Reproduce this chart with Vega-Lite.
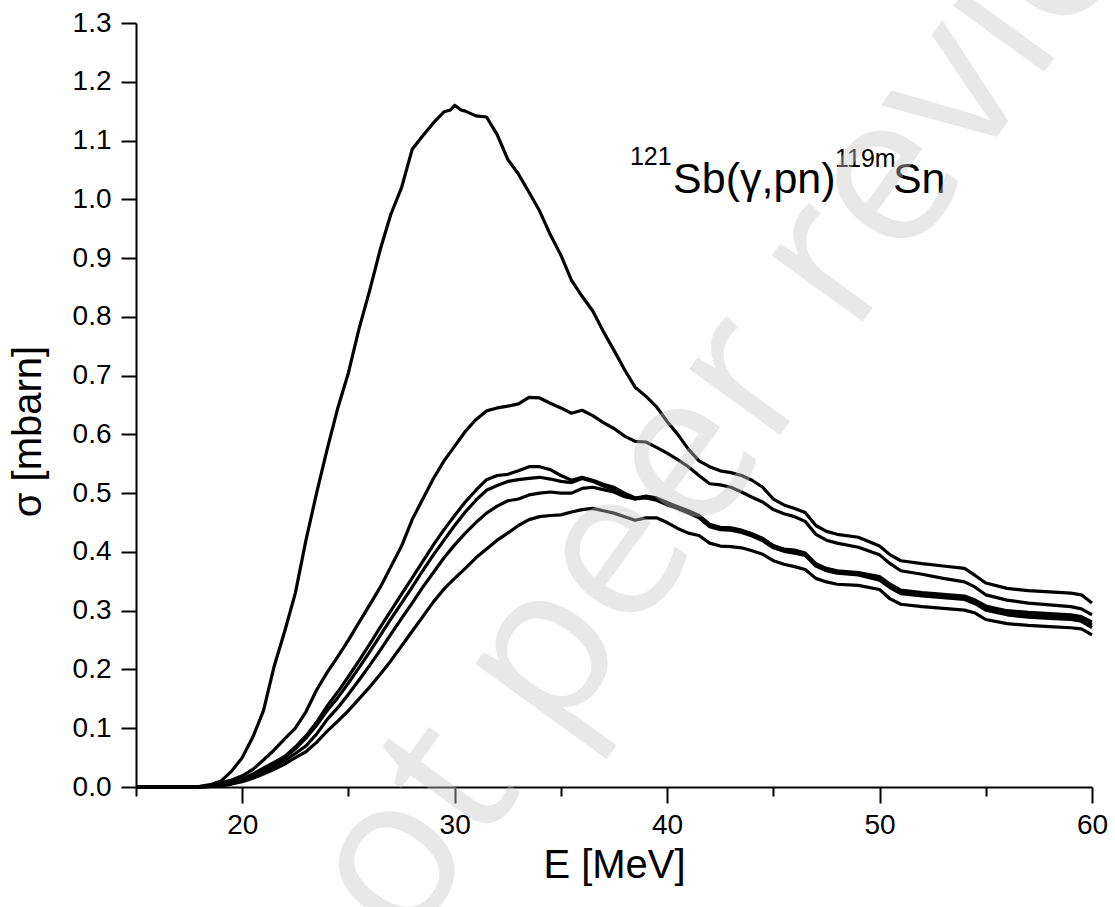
{
  "$schema": "https://vega.github.io/schema/vega-lite/v6.json",
  "width": 956,
  "height": 764,
  "autosize": {"type": "none"},
  "padding": {"left": 136, "top": 23, "right": 23, "bottom": 120},
  "background": "white",
  "config": {
    "view": {"stroke": null},
    "font": "Liberation Sans",
    "axis": {
      "grid": false,
      "domainColor": "black",
      "tickColor": "black",
      "labelColor": "black",
      "titleColor": "black",
      "domainWidth": 2,
      "tickWidth": 2,
      "labelFont": "Liberation Sans",
      "titleFont": "Liberation Sans",
      "titleFontWeight": "normal",
      "labelOverlap": false,
      "labelFlush": false
    }
  },
  "datasets": {
    "curves": [
      {"c":"P","E":15,"s":0},{"c":"P","E":17,"s":0},{"c":"P","E":18,"s":0.001},{"c":"P","E":18.5,"s":0.004},{"c":"P","E":19,"s":0.01},{"c":"P","E":19.5,"s":0.027},{"c":"P","E":20,"s":0.05},{"c":"P","E":20.5,"s":0.085},{"c":"P","E":21,"s":0.13},{"c":"P","E":21.5,"s":0.205},{"c":"P","E":22,"s":0.265},{"c":"P","E":22.5,"s":0.33},{"c":"P","E":23,"s":0.42},{"c":"P","E":23.5,"s":0.5},{"c":"P","E":24,"s":0.575},{"c":"P","E":24.5,"s":0.645},{"c":"P","E":25,"s":0.705},{"c":"P","E":25.5,"s":0.78},{"c":"P","E":26,"s":0.845},{"c":"P","E":26.5,"s":0.915},{"c":"P","E":27,"s":0.975},{"c":"P","E":27.5,"s":1.02},{"c":"P","E":28,"s":1.085},{"c":"P","E":28.5,"s":1.108},{"c":"P","E":29,"s":1.13},{"c":"P","E":29.5,"s":1.149},{"c":"P","E":29.8,"s":1.152},{"c":"P","E":30,"s":1.16},{"c":"P","E":30.3,"s":1.152},{"c":"P","E":30.5,"s":1.15},{"c":"P","E":31,"s":1.142},{"c":"P","E":31.5,"s":1.14},{"c":"P","E":32,"s":1.11},{"c":"P","E":32.5,"s":1.068},{"c":"P","E":33,"s":1.043},{"c":"P","E":33.5,"s":1.012},{"c":"P","E":34,"s":0.98},{"c":"P","E":34.5,"s":0.94},{"c":"P","E":35,"s":0.905},{"c":"P","E":35.5,"s":0.862},{"c":"P","E":36,"s":0.835},{"c":"P","E":36.5,"s":0.81},{"c":"P","E":37,"s":0.775},{"c":"P","E":37.5,"s":0.743},{"c":"P","E":38,"s":0.71},{"c":"P","E":38.5,"s":0.68},{"c":"P","E":39,"s":0.665},{"c":"P","E":39.5,"s":0.647},{"c":"P","E":40,"s":0.622},{"c":"P","E":40.5,"s":0.6},{"c":"P","E":41,"s":0.575},{"c":"P","E":41.5,"s":0.555},{"c":"P","E":42,"s":0.545},{"c":"P","E":42.5,"s":0.538},{"c":"P","E":43,"s":0.535},{"c":"P","E":43.5,"s":0.53},{"c":"P","E":44,"s":0.522},{"c":"P","E":44.5,"s":0.51},{"c":"P","E":45,"s":0.49},{"c":"P","E":45.5,"s":0.48},{"c":"P","E":46,"s":0.474},{"c":"P","E":46.5,"s":0.467},{"c":"P","E":47,"s":0.445},{"c":"P","E":47.5,"s":0.435},{"c":"P","E":48,"s":0.43},{"c":"P","E":49,"s":0.425},{"c":"P","E":50,"s":0.41},{"c":"P","E":50.5,"s":0.395},{"c":"P","E":51,"s":0.385},{"c":"P","E":52,"s":0.38},{"c":"P","E":53,"s":0.376},{"c":"P","E":54,"s":0.372},{"c":"P","E":54.5,"s":0.36},{"c":"P","E":55,"s":0.347},{"c":"P","E":56,"s":0.338},{"c":"P","E":57,"s":0.334},{"c":"P","E":58,"s":0.332},{"c":"P","E":59,"s":0.33},{"c":"P","E":59.5,"s":0.327},{"c":"P","E":60,"s":0.313},

      {"c":"S","E":15,"s":0},{"c":"S","E":18,"s":0},{"c":"S","E":18.5,"s":0.002},{"c":"S","E":19,"s":0.007},{"c":"S","E":19.5,"s":0.012},{"c":"S","E":20,"s":0.019},{"c":"S","E":20.5,"s":0.03},{"c":"S","E":21,"s":0.046},{"c":"S","E":21.5,"s":0.063},{"c":"S","E":22,"s":0.082},{"c":"S","E":22.5,"s":0.1},{"c":"S","E":23,"s":0.128},{"c":"S","E":23.5,"s":0.165},{"c":"S","E":24,"s":0.195},{"c":"S","E":24.5,"s":0.222},{"c":"S","E":25,"s":0.25},{"c":"S","E":25.5,"s":0.28},{"c":"S","E":26,"s":0.31},{"c":"S","E":26.5,"s":0.34},{"c":"S","E":27,"s":0.375},{"c":"S","E":27.5,"s":0.41},{"c":"S","E":28,"s":0.455},{"c":"S","E":28.5,"s":0.49},{"c":"S","E":29,"s":0.525},{"c":"S","E":29.5,"s":0.555},{"c":"S","E":30,"s":0.58},{"c":"S","E":30.5,"s":0.605},{"c":"S","E":31,"s":0.625},{"c":"S","E":31.5,"s":0.64},{"c":"S","E":32,"s":0.645},{"c":"S","E":32.5,"s":0.648},{"c":"S","E":33,"s":0.652},{"c":"S","E":33.5,"s":0.663},{"c":"S","E":34,"s":0.662},{"c":"S","E":34.5,"s":0.653},{"c":"S","E":35,"s":0.645},{"c":"S","E":35.5,"s":0.636},{"c":"S","E":36,"s":0.641},{"c":"S","E":36.5,"s":0.632},{"c":"S","E":37,"s":0.62},{"c":"S","E":37.5,"s":0.61},{"c":"S","E":38,"s":0.597},{"c":"S","E":38.5,"s":0.588},{"c":"S","E":39,"s":0.587},{"c":"S","E":39.5,"s":0.578},{"c":"S","E":40,"s":0.568},{"c":"S","E":40.5,"s":0.557},{"c":"S","E":41,"s":0.545},{"c":"S","E":41.5,"s":0.53},{"c":"S","E":42,"s":0.516},{"c":"S","E":42.5,"s":0.514},{"c":"S","E":43,"s":0.51},{"c":"S","E":43.5,"s":0.502},{"c":"S","E":44,"s":0.493},{"c":"S","E":44.5,"s":0.485},{"c":"S","E":45,"s":0.472},{"c":"S","E":45.5,"s":0.465},{"c":"S","E":46,"s":0.46},{"c":"S","E":46.5,"s":0.452},{"c":"S","E":47,"s":0.43},{"c":"S","E":47.5,"s":0.42},{"c":"S","E":48,"s":0.415},{"c":"S","E":49,"s":0.408},{"c":"S","E":50,"s":0.395},{"c":"S","E":50.5,"s":0.38},{"c":"S","E":51,"s":0.368},{"c":"S","E":52,"s":0.362},{"c":"S","E":53,"s":0.355},{"c":"S","E":54,"s":0.349},{"c":"S","E":54.5,"s":0.34},{"c":"S","E":55,"s":0.327},{"c":"S","E":56,"s":0.318},{"c":"S","E":57,"s":0.313},{"c":"S","E":58,"s":0.31},{"c":"S","E":59,"s":0.307},{"c":"S","E":59.5,"s":0.303},{"c":"S","E":60,"s":0.293},

      {"c":"A","E":15,"s":0},{"c":"A","E":18,"s":0},{"c":"A","E":18.5,"s":0.001},{"c":"A","E":19,"s":0.003},{"c":"A","E":19.5,"s":0.008},{"c":"A","E":20,"s":0.014},{"c":"A","E":20.5,"s":0.022},{"c":"A","E":21,"s":0.032},{"c":"A","E":21.5,"s":0.042},{"c":"A","E":22,"s":0.052},{"c":"A","E":22.5,"s":0.068},{"c":"A","E":23,"s":0.087},{"c":"A","E":23.5,"s":0.11},{"c":"A","E":24,"s":0.138},{"c":"A","E":24.5,"s":0.162},{"c":"A","E":25,"s":0.188},{"c":"A","E":25.5,"s":0.215},{"c":"A","E":26,"s":0.243},{"c":"A","E":26.5,"s":0.272},{"c":"A","E":27,"s":0.3},{"c":"A","E":27.5,"s":0.328},{"c":"A","E":28,"s":0.356},{"c":"A","E":28.5,"s":0.384},{"c":"A","E":29,"s":0.412},{"c":"A","E":29.5,"s":0.438},{"c":"A","E":30,"s":0.462},{"c":"A","E":30.5,"s":0.485},{"c":"A","E":31,"s":0.505},{"c":"A","E":31.5,"s":0.523},{"c":"A","E":32,"s":0.53},{"c":"A","E":32.5,"s":0.532},{"c":"A","E":33,"s":0.538},{"c":"A","E":33.5,"s":0.545},{"c":"A","E":34,"s":0.545},{"c":"A","E":34.5,"s":0.54},{"c":"A","E":35,"s":0.53},{"c":"A","E":35.5,"s":0.522},{"c":"A","E":36,"s":0.527},{"c":"A","E":36.5,"s":0.522},{"c":"A","E":37,"s":0.515},{"c":"A","E":37.5,"s":0.51},{"c":"A","E":38,"s":0.5},{"c":"A","E":38.5,"s":0.492},{"c":"A","E":39,"s":0.494},{"c":"A","E":39.5,"s":0.49},{"c":"A","E":40,"s":0.482},{"c":"A","E":40.5,"s":0.476},{"c":"A","E":41,"s":0.468},{"c":"A","E":41.5,"s":0.46},{"c":"A","E":42,"s":0.445},{"c":"A","E":42.5,"s":0.44},{"c":"A","E":43,"s":0.44},{"c":"A","E":43.5,"s":0.436},{"c":"A","E":44,"s":0.43},{"c":"A","E":44.5,"s":0.422},{"c":"A","E":45,"s":0.41},{"c":"A","E":45.5,"s":0.405},{"c":"A","E":46,"s":0.403},{"c":"A","E":46.5,"s":0.398},{"c":"A","E":47,"s":0.38},{"c":"A","E":47.5,"s":0.372},{"c":"A","E":48,"s":0.368},{"c":"A","E":49,"s":0.365},{"c":"A","E":50,"s":0.358},{"c":"A","E":50.5,"s":0.345},{"c":"A","E":51,"s":0.335},{"c":"A","E":52,"s":0.331},{"c":"A","E":53,"s":0.328},{"c":"A","E":54,"s":0.325},{"c":"A","E":54.5,"s":0.318},{"c":"A","E":55,"s":0.308},{"c":"A","E":56,"s":0.3},{"c":"A","E":57,"s":0.297},{"c":"A","E":58,"s":0.295},{"c":"A","E":59,"s":0.293},{"c":"A","E":59.5,"s":0.29},{"c":"A","E":60,"s":0.281},

      {"c":"B","E":15,"s":0},{"c":"B","E":18,"s":0},{"c":"B","E":18.5,"s":0.001},{"c":"B","E":19,"s":0.003},{"c":"B","E":19.5,"s":0.007},{"c":"B","E":20,"s":0.012},{"c":"B","E":20.5,"s":0.02},{"c":"B","E":21,"s":0.029},{"c":"B","E":21.5,"s":0.039},{"c":"B","E":22,"s":0.05},{"c":"B","E":22.5,"s":0.065},{"c":"B","E":23,"s":0.083},{"c":"B","E":23.5,"s":0.105},{"c":"B","E":24,"s":0.13},{"c":"B","E":24.5,"s":0.152},{"c":"B","E":25,"s":0.177},{"c":"B","E":25.5,"s":0.203},{"c":"B","E":26,"s":0.23},{"c":"B","E":26.5,"s":0.258},{"c":"B","E":27,"s":0.286},{"c":"B","E":27.5,"s":0.313},{"c":"B","E":28,"s":0.34},{"c":"B","E":28.5,"s":0.368},{"c":"B","E":29,"s":0.395},{"c":"B","E":29.5,"s":0.42},{"c":"B","E":30,"s":0.445},{"c":"B","E":30.5,"s":0.468},{"c":"B","E":31,"s":0.488},{"c":"B","E":31.5,"s":0.505},{"c":"B","E":32,"s":0.513},{"c":"B","E":32.5,"s":0.52},{"c":"B","E":33,"s":0.523},{"c":"B","E":33.5,"s":0.525},{"c":"B","E":34,"s":0.527},{"c":"B","E":34.5,"s":0.524},{"c":"B","E":35,"s":0.52},{"c":"B","E":35.5,"s":0.518},{"c":"B","E":36,"s":0.525},{"c":"B","E":36.5,"s":0.52},{"c":"B","E":37,"s":0.512},{"c":"B","E":37.5,"s":0.506},{"c":"B","E":38,"s":0.497},{"c":"B","E":38.5,"s":0.49},{"c":"B","E":39,"s":0.492},{"c":"B","E":39.5,"s":0.488},{"c":"B","E":40,"s":0.48},{"c":"B","E":40.5,"s":0.474},{"c":"B","E":41,"s":0.466},{"c":"B","E":41.5,"s":0.458},{"c":"B","E":42,"s":0.443},{"c":"B","E":42.5,"s":0.438},{"c":"B","E":43,"s":0.437},{"c":"B","E":43.5,"s":0.433},{"c":"B","E":44,"s":0.427},{"c":"B","E":44.5,"s":0.419},{"c":"B","E":45,"s":0.407},{"c":"B","E":45.5,"s":0.401},{"c":"B","E":46,"s":0.398},{"c":"B","E":46.5,"s":0.394},{"c":"B","E":47,"s":0.376},{"c":"B","E":47.5,"s":0.368},{"c":"B","E":48,"s":0.364},{"c":"B","E":49,"s":0.361},{"c":"B","E":50,"s":0.352},{"c":"B","E":50.5,"s":0.339},{"c":"B","E":51,"s":0.329},{"c":"B","E":52,"s":0.325},{"c":"B","E":53,"s":0.322},{"c":"B","E":54,"s":0.319},{"c":"B","E":54.5,"s":0.312},{"c":"B","E":55,"s":0.301},{"c":"B","E":56,"s":0.293},{"c":"B","E":57,"s":0.289},{"c":"B","E":58,"s":0.287},{"c":"B","E":59,"s":0.285},{"c":"B","E":59.5,"s":0.282},{"c":"B","E":60,"s":0.271},

      {"c":"C","E":15,"s":0},{"c":"C","E":18,"s":0},{"c":"C","E":18.5,"s":0.001},{"c":"C","E":19,"s":0.002},{"c":"C","E":19.5,"s":0.006},{"c":"C","E":20,"s":0.011},{"c":"C","E":20.5,"s":0.018},{"c":"C","E":21,"s":0.026},{"c":"C","E":21.5,"s":0.035},{"c":"C","E":22,"s":0.045},{"c":"C","E":22.5,"s":0.057},{"c":"C","E":23,"s":0.07},{"c":"C","E":23.5,"s":0.09},{"c":"C","E":24,"s":0.115},{"c":"C","E":24.5,"s":0.135},{"c":"C","E":25,"s":0.158},{"c":"C","E":25.5,"s":0.182},{"c":"C","E":26,"s":0.207},{"c":"C","E":26.5,"s":0.233},{"c":"C","E":27,"s":0.26},{"c":"C","E":27.5,"s":0.287},{"c":"C","E":28,"s":0.313},{"c":"C","E":28.5,"s":0.34},{"c":"C","E":29,"s":0.365},{"c":"C","E":29.5,"s":0.39},{"c":"C","E":30,"s":0.412},{"c":"C","E":30.5,"s":0.432},{"c":"C","E":31,"s":0.45},{"c":"C","E":31.5,"s":0.466},{"c":"C","E":32,"s":0.478},{"c":"C","E":32.5,"s":0.487},{"c":"C","E":33,"s":0.49},{"c":"C","E":33.5,"s":0.497},{"c":"C","E":34,"s":0.5},{"c":"C","E":34.5,"s":0.502},{"c":"C","E":35,"s":0.5},{"c":"C","E":35.5,"s":0.5},{"c":"C","E":36,"s":0.508},{"c":"C","E":36.5,"s":0.51},{"c":"C","E":37,"s":0.506},{"c":"C","E":37.5,"s":0.502},{"c":"C","E":38,"s":0.494},{"c":"C","E":38.5,"s":0.49},{"c":"C","E":39,"s":0.495},{"c":"C","E":39.5,"s":0.492},{"c":"C","E":40,"s":0.484},{"c":"C","E":40.5,"s":0.477},{"c":"C","E":41,"s":0.47},{"c":"C","E":41.5,"s":0.462},{"c":"C","E":42,"s":0.447},{"c":"C","E":42.5,"s":0.442},{"c":"C","E":43,"s":0.441},{"c":"C","E":43.5,"s":0.437},{"c":"C","E":44,"s":0.431},{"c":"C","E":44.5,"s":0.423},{"c":"C","E":45,"s":0.411},{"c":"C","E":45.5,"s":0.404},{"c":"C","E":46,"s":0.4},{"c":"C","E":46.5,"s":0.396},{"c":"C","E":47,"s":0.378},{"c":"C","E":47.5,"s":0.37},{"c":"C","E":48,"s":0.366},{"c":"C","E":49,"s":0.363},{"c":"C","E":50,"s":0.355},{"c":"C","E":50.5,"s":0.342},{"c":"C","E":51,"s":0.332},{"c":"C","E":52,"s":0.328},{"c":"C","E":53,"s":0.325},{"c":"C","E":54,"s":0.322},{"c":"C","E":54.5,"s":0.315},{"c":"C","E":55,"s":0.304},{"c":"C","E":56,"s":0.297},{"c":"C","E":57,"s":0.293},{"c":"C","E":58,"s":0.291},{"c":"C","E":59,"s":0.289},{"c":"C","E":59.5,"s":0.286},{"c":"C","E":60,"s":0.276},

      {"c":"D","E":15,"s":0},{"c":"D","E":18,"s":0},{"c":"D","E":18.5,"s":0.001},{"c":"D","E":19,"s":0.002},{"c":"D","E":19.5,"s":0.005},{"c":"D","E":20,"s":0.009},{"c":"D","E":20.5,"s":0.015},{"c":"D","E":21,"s":0.022},{"c":"D","E":21.5,"s":0.03},{"c":"D","E":22,"s":0.039},{"c":"D","E":22.5,"s":0.05},{"c":"D","E":23,"s":0.06},{"c":"D","E":23.5,"s":0.076},{"c":"D","E":24,"s":0.095},{"c":"D","E":24.5,"s":0.112},{"c":"D","E":25,"s":0.13},{"c":"D","E":25.5,"s":0.15},{"c":"D","E":26,"s":0.17},{"c":"D","E":26.5,"s":0.192},{"c":"D","E":27,"s":0.215},{"c":"D","E":27.5,"s":0.24},{"c":"D","E":28,"s":0.265},{"c":"D","E":28.5,"s":0.29},{"c":"D","E":29,"s":0.315},{"c":"D","E":29.5,"s":0.337},{"c":"D","E":30,"s":0.355},{"c":"D","E":30.5,"s":0.372},{"c":"D","E":31,"s":0.39},{"c":"D","E":31.5,"s":0.405},{"c":"D","E":32,"s":0.42},{"c":"D","E":32.5,"s":0.432},{"c":"D","E":33,"s":0.445},{"c":"D","E":33.5,"s":0.455},{"c":"D","E":34,"s":0.46},{"c":"D","E":34.5,"s":0.462},{"c":"D","E":35,"s":0.463},{"c":"D","E":35.5,"s":0.468},{"c":"D","E":36,"s":0.472},{"c":"D","E":36.5,"s":0.474},{"c":"D","E":37,"s":0.47},{"c":"D","E":37.5,"s":0.466},{"c":"D","E":38,"s":0.46},{"c":"D","E":38.5,"s":0.454},{"c":"D","E":39,"s":0.458},{"c":"D","E":39.5,"s":0.458},{"c":"D","E":40,"s":0.45},{"c":"D","E":40.5,"s":0.44},{"c":"D","E":41,"s":0.432},{"c":"D","E":41.5,"s":0.428},{"c":"D","E":42,"s":0.415},{"c":"D","E":42.5,"s":0.41},{"c":"D","E":43,"s":0.409},{"c":"D","E":43.5,"s":0.407},{"c":"D","E":44,"s":0.402},{"c":"D","E":44.5,"s":0.396},{"c":"D","E":45,"s":0.385},{"c":"D","E":45.5,"s":0.379},{"c":"D","E":46,"s":0.375},{"c":"D","E":46.5,"s":0.37},{"c":"D","E":47,"s":0.355},{"c":"D","E":47.5,"s":0.349},{"c":"D","E":48,"s":0.345},{"c":"D","E":49,"s":0.343},{"c":"D","E":50,"s":0.336},{"c":"D","E":50.5,"s":0.32},{"c":"D","E":51,"s":0.311},{"c":"D","E":52,"s":0.307},{"c":"D","E":53,"s":0.304},{"c":"D","E":54,"s":0.301},{"c":"D","E":54.5,"s":0.296},{"c":"D","E":55,"s":0.285},{"c":"D","E":56,"s":0.278},{"c":"D","E":57,"s":0.275},{"c":"D","E":58,"s":0.273},{"c":"D","E":59,"s":0.271},{"c":"D","E":59.5,"s":0.269},{"c":"D","E":60,"s":0.259}
    ],
    "mainText": [
      {"t":"Sb(γ,pn)","E":40.28,"s":1.011},
      {"t":"Sn","E":50.63,"s":1.011}
    ],
    "supText": [
      {"t":"121","E":38.25,"s":1.058},
      {"t":"119m","E":47.9,"s":1.055}
    ],
    "watermark": [
      {"t":"not peer reviewed","E":46.3,"s":0.83}
    ]
  },
  "layer": [
    {
      "data": {"name": "curves"},
      "mark": {"type": "line", "stroke": "black", "strokeWidth": 3.2, "strokeJoin": "round"},
      "encoding": {
        "x": {
          "field": "E", "type": "quantitative",
          "scale": {"domain": [15, 60], "nice": false, "zero": false},
          "axis": {
            "orient": "bottom",
            "values": [15, 20, 25, 30, 35, 40, 45, 50, 55, 60],
            "tickSize": {"condition": {"test": "datum.value % 10 == 0", "value": 16}, "value": 9},
            "labelExpr": "datum.value % 10 == 0 ? datum.label : ''",
            "labelFontSize": 28,
            "labelPadding": 8,
            "title": "E [MeV]",
            "titleFontSize": 40,
            "titlePadding": 6
          }
        },
        "y": {
          "field": "s", "type": "quantitative",
          "scale": {"domain": [0, 1.3], "nice": false, "zero": false},
          "axis": {
            "orient": "left",
            "values": [0, 0.05, 0.1, 0.15, 0.2, 0.25, 0.3, 0.35, 0.4, 0.45, 0.5, 0.55, 0.6, 0.65, 0.7, 0.75, 0.8, 0.85, 0.9, 0.95, 1.0, 1.05, 1.1, 1.15, 1.2, 1.25, 1.3],
            "tickSize": {"condition": {"test": "abs(datum.value * 10 - round(datum.value * 10)) < 0.01", "value": 15}, "value": 8},
            "labelExpr": "abs(datum.value * 10 - round(datum.value * 10)) < 0.01 ? format(datum.value, '.1f') : ''",
            "labelFontSize": 28,
            "labelPadding": 10,
            "title": "σ [mbarn]",
            "titleFontSize": 40,
            "titlePadding": 24,
            "titleY": 408
          }
        },
        "detail": {"field": "c", "type": "nominal"}
      }
    },
    {
      "data": {"name": "mainText"},
      "mark": {"type": "text", "align": "left", "baseline": "alphabetic", "fontSize": 43, "font": "Liberation Sans", "color": "black"},
      "encoding": {
        "x": {"field": "E", "type": "quantitative"},
        "y": {"field": "s", "type": "quantitative"},
        "text": {"field": "t"}
      }
    },
    {
      "data": {"name": "supText"},
      "mark": {"type": "text", "align": "left", "baseline": "alphabetic", "fontSize": 25, "font": "Liberation Sans", "color": "black"},
      "encoding": {
        "x": {"field": "E", "type": "quantitative"},
        "y": {"field": "s", "type": "quantitative"},
        "text": {"field": "t"}
      }
    },
    {
      "data": {"name": "watermark"},
      "mark": {"type": "text", "align": "center", "baseline": "middle", "fontSize": 210, "font": "Open Sans", "angle": -54, "color": "#c8c8c8", "opacity": 0.4},
      "encoding": {
        "x": {"field": "E", "type": "quantitative"},
        "y": {"field": "s", "type": "quantitative"},
        "text": {"field": "t"}
      }
    }
  ]
}
